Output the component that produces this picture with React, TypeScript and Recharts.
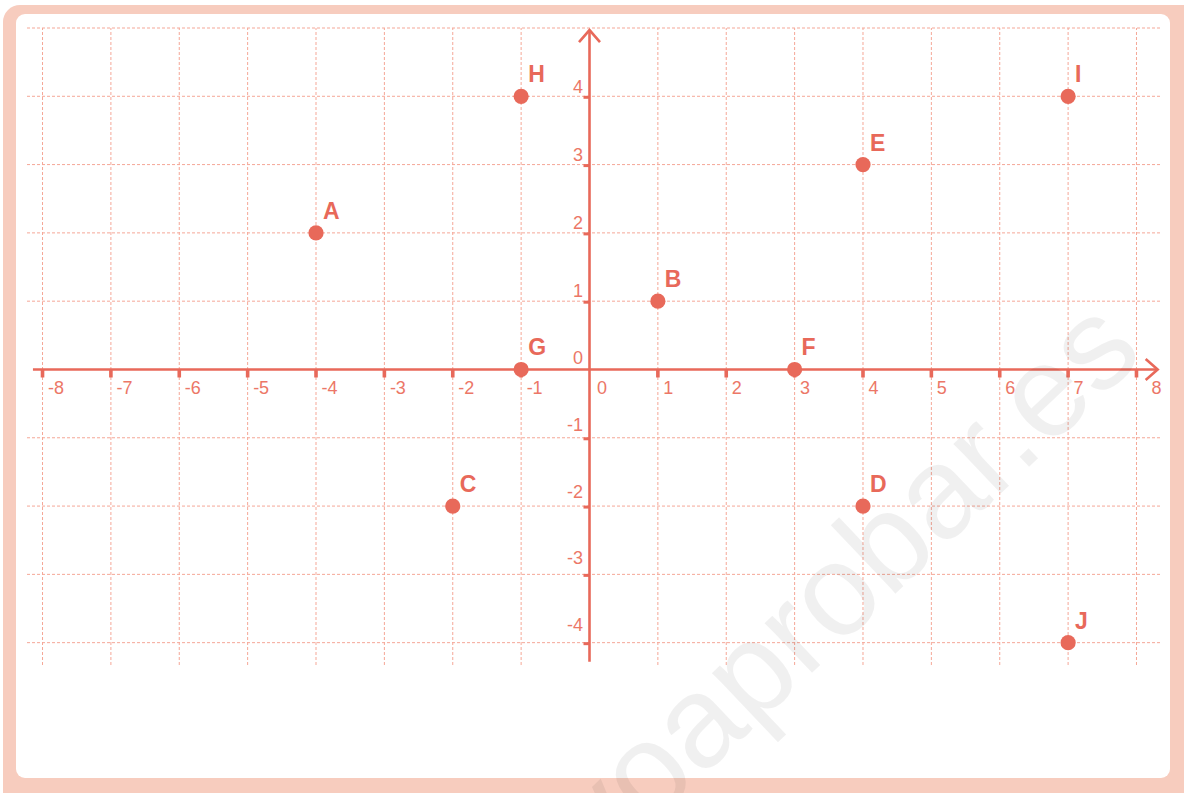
import React from 'react';
import {
  ScatterChart,
  Scatter,
  XAxis,
  YAxis,
  ReferenceLine,
  ReferenceDot,
} from 'recharts';

// ---- data ----
const pointNames = ['A', 'B', 'C', 'D', 'E', 'F', 'G', 'H', 'I', 'J'];
const pointX = [-4, 1, -2, 4, 4, 3, -1, -1, 7, 7];
const pointY = [2, 1, -2, -2, 3, 0, 0, 4, 4, -4];

const xGridTicks = [-8, -7, -6, -5, -4, -3, -2, -1, 1, 2, 3, 4, 5, 6, 7, 8];
const yGridTicks = [-4, -3, -2, -1, 1, 2, 3, 4, 5];
const xLabelTicks = [-8, -7, -6, -5, -4, -3, -2, -1, 0, 1, 2, 3, 4, 5, 6, 7, 8];
const yLabelTicks = [-4, -3, -2, -1, 0, 1, 2, 3, 4];

const xDomain: [number, number] = [-8.227, 8.344];
const yDomain: [number, number] = [-4.327, 5];
const xAxisSpan = [-8.14, 8.31];
const yAxisSpan = [-4.28, 4.97];

const points = pointNames.map((name, i) => ({ name, x: pointX[i], y: pointY[i] }));

// ---- styles ----
const RED = '#e8695a';
const LABEL = '#ec7767';
const GRID = '#f5a797';
const FONT = '"Liberation Sans", Arial, Helvetica, sans-serif';

const ArrowLine = (props: any) => {
  const { x1, y1, x2, y2 } = props;
  const dx = x2 - x1;
  const dy = y2 - y1;
  const len = Math.sqrt(dx * dx + dy * dy) || 1;
  const ux = dx / len;
  const uy = dy / len;
  const px = -uy;
  const py = ux;
  const back = 12;
  const half = 10.5;
  const ax = x2 - ux * back;
  const ay = y2 - uy * back;
  return (
    <g>
      <line x1={x1} y1={y1} x2={x2} y2={y2} stroke={RED} strokeWidth={2.6} />
      <polyline
        points={`${ax + px * half},${ay + py * half} ${x2},${y2} ${ax - px * half},${ay - py * half}`}
        fill="none"
        stroke={RED}
        strokeWidth={2.6}
      />
    </g>
  );
};

const GridLine = (props: any) => {
  const { x1, y1, x2, y2 } = props;
  return (
    <line
      x1={x1}
      y1={y1}
      x2={x2}
      y2={y2}
      stroke={GRID}
      strokeWidth={1}
      strokeDasharray="3 2"
    />
  );
};

const makeXTick = (t: number) => (p: any) => {
  const { cx, cy } = p;
  const dx = t === 8 ? 15 : t === 0 ? 7.5 : 5.5;
  return (
    <g>
      {t !== 0 && <rect x={cx - 1.8} y={cy} width={3.6} height={8} fill={RED} />}
      <text x={cx + dx} y={cy + 24.5} fill={LABEL} fontSize={18} fontFamily={FONT}>
        {t}
      </text>
    </g>
  );
};

const makeYTick = (t: number) => (p: any) => {
  const { cx, cy } = p;
  const dy = t >= 0 ? -5 + 0.45 * t : -5 + 1.75 * t;
  return (
    <g>
      {t !== 0 && <rect x={cx - 6} y={cy - 0.5} width={6} height={3} fill={RED} />}
      <text x={cx - 6.5} y={cy + dy} fill={LABEL} fontSize={18} fontFamily={FONT} textAnchor="end">
        {t}
      </text>
    </g>
  );
};

const PointShape = (p: any) => {
  const { cx, cy, payload } = p;
  return (
    <g>
      <circle cx={cx} cy={cy} r={7.6} fill={RED} />
      <text
        x={cx + 7}
        y={cy - 14}
        fill={RED}
        fontSize={23}
        fontWeight="bold"
        fontFamily={FONT}
      >
        {payload.name}
      </text>
    </g>
  );
};

export default function App() {
  return (
    <div
      style={{
        position: 'absolute',
        left: 0,
        top: 0,
        width: 1184,
        height: 793,
        overflow: 'hidden',
        background: '#ffffff',
      }}
    >
      <div
        style={{
          position: 'absolute',
          left: 3,
          top: 5,
          width: 1200,
          height: 810,
          background: '#f7ccbe',
          borderRadius: 17,
        }}
      />
      <div
        style={{
          position: 'absolute',
          left: 16,
          top: 14,
          width: 1154,
          height: 764,
          background: '#ffffff',
          borderRadius: 9,
        }}
      />
      <div style={{ position: 'absolute', left: 0, top: 0 }}>
        <ScatterChart
          width={1184}
          height={793}
          margin={{ top: 28, right: 24, bottom: 128, left: 27 }}
        >
          <XAxis
            type="number"
            dataKey="x"
            domain={xDomain}
            allowDataOverflow
            hide
          />
          <YAxis
            type="number"
            dataKey="y"
            domain={yDomain}
            allowDataOverflow
            hide
          />
          {xGridTicks.map((t) => (
            <ReferenceLine key={'gx' + t} x={t} shape={GridLine} />
          ))}
          {yGridTicks.map((t) => (
            <ReferenceLine key={'gy' + t} y={t} shape={GridLine} />
          ))}
          <ReferenceLine
            segment={[
              { x: xAxisSpan[0], y: 0 },
              { x: xAxisSpan[1], y: 0 },
            ]}
            shape={ArrowLine}
          />
          <ReferenceLine
            segment={[
              { x: 0, y: yAxisSpan[0] },
              { x: 0, y: yAxisSpan[1] },
            ]}
            shape={ArrowLine}
          />
          {xLabelTicks.map((t) => (
            <ReferenceDot key={'xt' + t} x={t} y={0} shape={makeXTick(t)} />
          ))}
          {yLabelTicks.map((t) => (
            <ReferenceDot key={'yt' + t} x={0} y={t} shape={makeYTick(t)} />
          ))}
          <Scatter data={points} shape={PointShape} isAnimationActive={false} />
        </ScatterChart>
      </div>
      <svg
        width={1184}
        height={793}
        style={{ position: 'absolute', left: 0, top: 0, pointerEvents: 'none' }}
      >
        <text
          x={601}
          y={873}
          fontSize={130}
          fontFamily={FONT}
          textAnchor="start"
          fill="#000000"
          fillOpacity={0.06}
          transform="rotate(-43.5 601 873)"
        >
          yoaprobar.es
        </text>
      </svg>
    </div>
  );
}
